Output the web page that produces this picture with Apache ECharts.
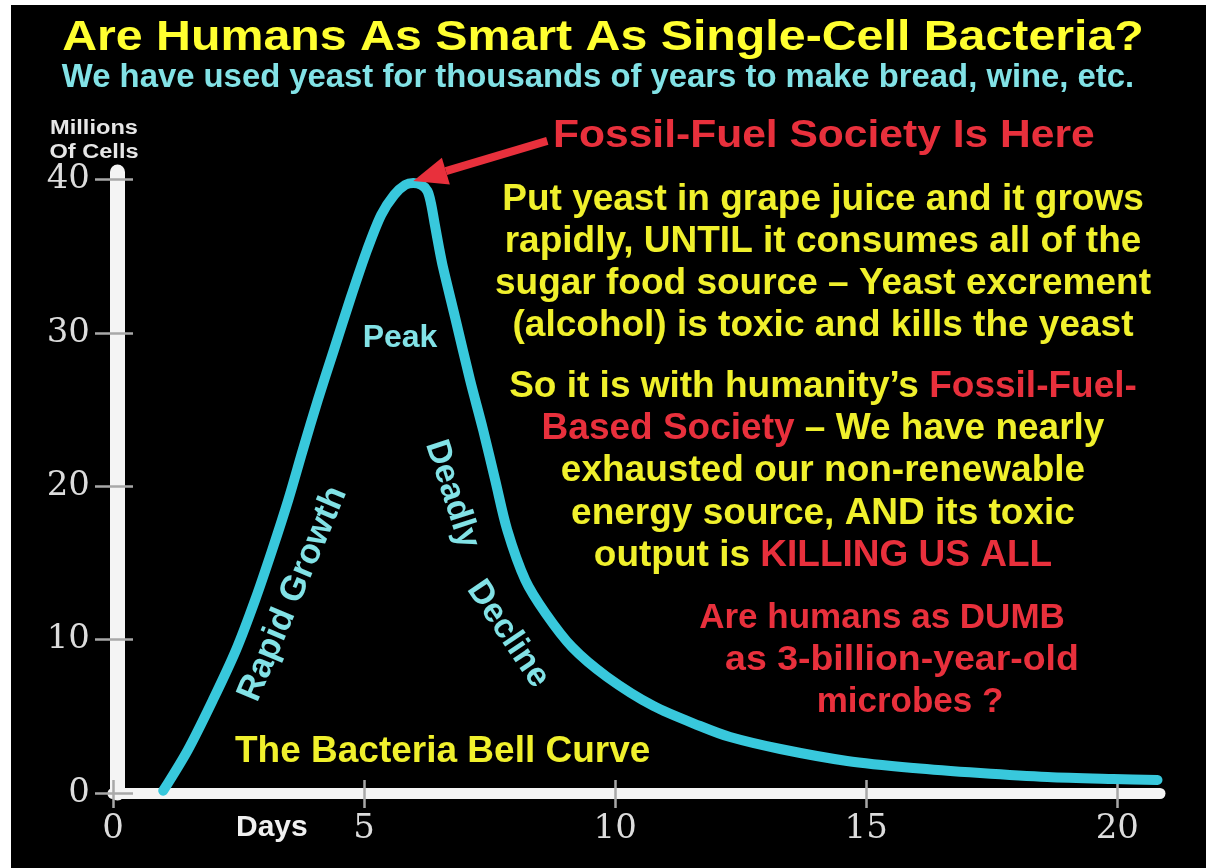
<!DOCTYPE html>
<html><head><meta charset="utf-8">
<script src="https://cdn.jsdelivr.net/npm/echarts@6/dist/echarts.min.js"></script>
<style>html,body{margin:0;padding:0;background:#fff}#c{width:1206px;height:868px}</style>
</head><body><div id="c"></div><script>
// ---- data ----
const days  = [1.00, 1.49, 1.99, 2.45, 2.83, 3.17, 3.49, 3.78, 4.08, 4.40, 4.72, 5.06, 5.34, 5.60, 5.82, 5.98, 6.14, 6.26, 6.33, 6.41, 6.49, 6.57, 6.81, 7.11, 7.37, 7.61, 7.85, 8.21, 8.61, 9.14, 9.84, 10.76, 11.69, 12.29, 13.29, 14.62, 15.94, 17.27, 18.61, 19.92, 20.80];
const cells = [0.15, 2.80, 6.07, 9.33, 12.59, 15.85, 19.11, 22.37, 25.64, 28.90, 32.16, 35.42, 37.70, 39.01, 39.66, 39.79, 39.66, 39.27, 38.49, 37.05, 35.62, 34.31, 31.05, 26.94, 23.68, 20.42, 17.16, 13.89, 11.74, 9.52, 7.57, 5.68, 4.37, 3.65, 2.87, 2.09, 1.63, 1.30, 1.04, 0.91, 0.85];
const xTicks = [0, 5, 10, 15, 20];
const yTicks = [0, 10, 20, 30, 40];
const peakDay = 5.98, peakCells = 39.79;

const titleText = 'Are Humans As Smart As Single-Cell Bacteria?';
const subtitleText = 'We have used yeast for thousands of years to make bread, wine, etc.';
const yAxisName = ['Millions', 'Of Cells'];
const xAxisName = 'Days';
const arrowLabel = 'Fossil-Fuel Society Is Here';
const para1 = ['Put yeast in grape juice and it grows', 'rapidly, UNTIL it consumes all of the', 'sugar food source \u2013 Yeast excrement', '(alcohol) is toxic and kills the yeast'];
const para2 = [
  [['y', 'So it is with humanity\u2019s '], ['r', 'Fossil-Fuel-']],
  [['r', 'Based Society'], ['y', ' \u2013 We have nearly']],
  [['y', 'exhausted our non-renewable']],
  [['y', 'energy source, AND its toxic']],
  [['y', 'output is '], ['r', 'KILLING US ALL']]
];
const para3 = ['Are humans as DUMB', 'as 3-billion-year-old', 'microbes ?'];
const curveLabels = { peak: 'Peak', growth: 'Rapid Growth', deadly: 'Deadly', decline: 'Decline', name: 'The Bacteria Bell Curve' };

// ---- styles ----
const YEL = '#f0f02c', TYEL = '#ffff30', RED = '#e8303c', CYAN = '#38c8dc', LCYAN = '#82e2e6';
const FONT = '"Liberation Sans", Arial, sans-serif';
const SERIF = '"DejaVu Serif", "Liberation Serif", serif';
const DEG = Math.PI / 180;
const TICKC = '#a8a8a8';

const chart = echarts.init(document.getElementById('c'), null, { renderer: 'canvas' });

function txt(x, y, text, size, color, o) {
  o = o || {};
  return {
    type: 'text', x: x, y: y, rotation: o.rot || 0, scaleX: o.sx || 1, scaleY: o.sy || 1, z: 10,
    style: { text: text, fill: color, fontSize: size, fontWeight: o.w || 'bold', fontFamily: FONT,
      textAlign: o.align || 'center', textVerticalAlign: 'middle' }
  };
}
function rich(x, y, parts, size) {
  const st = { fontSize: size, fontWeight: 'bold', fontFamily: FONT };
  return {
    type: 'text', x: x, y: y, z: 10,
    style: { text: parts.map(p => '{' + p[0] + '|' + p[1] + '}').join(''), textAlign: 'center', textVerticalAlign: 'middle',
      rich: { y: Object.assign({ fill: YEL }, st), r: Object.assign({ fill: RED }, st) } }
  };
}

const graphics = [
  { type: 'rect', shape: { x: 0, y: 0, width: 11, height: 868 }, style: { fill: '#fff' }, z: 20 },
  { type: 'rect', shape: { x: 0, y: 0, width: 1206, height: 5 }, style: { fill: '#fff' }, z: 20 },
  txt(603, 38, titleText, 42, TYEL, { sx: 1.15 }),
  txt(598, 78, subtitleText, 33, LCYAN, { sx: 0.995 }),
  txt(94, 128, yAxisName[0], 20, '#e6e6e6', { sx: 1.18 }),
  txt(94, 152, yAxisName[1], 20, '#e6e6e6', { sx: 1.18 }),
  txt(553, 137, arrowLabel, 38, RED, { align: 'left', sx: 1.12 }),
  txt(236, 828, xAxisName, 30, '#f0f0f0', { align: 'left' }),
  txt(400, 338, curveLabels.peak, 32, LCYAN, {}),
  txt(293, 594, curveLabels.growth, 35, LCYAN, { rot: 67 * DEG }),
  txt(452, 494, curveLabels.deadly, 34, LCYAN, { rot: -72 * DEG }),
  txt(508, 634, curveLabels.decline, 34, LCYAN, { rot: -56 * DEG }),
  txt(235, 752, curveLabels.name, 37, YEL, { align: 'left' })
];
const p1y = [200, 242, 284, 326];
para1.forEach((l, i) => graphics.push(txt(823, p1y[i], l, 37, YEL, {})));
const p2y = [387, 429, 471, 514, 556];
para2.forEach((l, i) => graphics.push(rich(823, p2y[i], l, 37)));
const p3 = [[882, 618, 1], [902, 660, 1.07], [910, 702, 1]];
para3.forEach((l, i) => graphics.push(txt(p3[i][0], p3[i][1], l, 35, RED, { sx: p3[i][2] })));

const xBase = { type: 'value', min: 0, max: 20.85, interval: 5, splitLine: { show: false } };
const yBase = { type: 'value', min: 0, max: 40.5, interval: 10, offset: -4, splitLine: { show: false } };

const option = {
  backgroundColor: '#000',
  animation: false,
  grid: { left: 113, right: 46, top: 172, bottom: 75 },
  xAxis: [
    Object.assign({}, xBase, {
      position: 'bottom',
      axisLine: { show: true, onZero: false, lineStyle: { color: '#f4f4f4', width: 11 } },
      axisTick: { show: true, length: 15, customValues: xTicks, lineStyle: { color: TICKC, width: 2.5 } },
      axisLabel: { customValues: xTicks, color: '#dcdcdc', fontSize: 34, fontFamily: SERIF, margin: 19 }
    }),
    Object.assign({}, xBase, {
      position: 'bottom',
      axisLine: { show: false, onZero: false },
      axisTick: { show: true, inside: true, length: 13, customValues: xTicks, lineStyle: { color: TICKC, width: 2.5 } },
      axisLabel: { show: false }
    })
  ],
  yAxis: [
    Object.assign({}, yBase, {
      position: 'left',
      axisLine: { show: true, onZero: false, lineStyle: { color: '#f4f4f4', width: 15 } },
      axisTick: { show: true, length: 22, customValues: yTicks, lineStyle: { color: TICKC, width: 2.5 } },
      axisLabel: { customValues: yTicks, color: '#dcdcdc', fontSize: 34, fontFamily: SERIF, margin: 27 }
    }),
    Object.assign({}, yBase, {
      position: 'left',
      axisLine: { show: false, onZero: false },
      axisTick: { show: true, inside: true, length: 16, customValues: yTicks, lineStyle: { color: TICKC, width: 2.5 } },
      axisLabel: { show: false }
    })
  ],
  series: [{
    type: 'line', xAxisIndex: 0, yAxisIndex: 0,
    data: days.map((d, i) => [d, cells[i]]), smooth: 0.3, showSymbol: false, symbol: 'none',
    silent: true, clip: false,
    lineStyle: { color: CYAN, width: 10, cap: 'round', join: 'round' }, z: 3
  }],
  graphic: graphics
};
chart.setOption(option);

// red arrow pointing at the peak
const tip = chart.convertToPixel({ gridIndex: 0 }, [peakDay, peakCells]);
const tx = tip[0], ty = tip[1] - 2;
const sx = tx + 134, sy = ty - 40;
const len = Math.hypot(sx - tx, sy - ty), ux = (sx - tx) / len, uy = (sy - ty) / len;
const hl = 34, hw = 14;
const bx = tx + ux * hl, by = ty + uy * hl;
graphics.push({ type: 'line', z: 12, shape: { x1: sx, y1: sy, x2: bx, y2: by }, style: { stroke: RED, lineWidth: 8 } });
graphics.push({ type: 'polygon', z: 12, shape: { points: [[tx, ty], [bx - uy * hw, by + ux * hw], [bx + uy * hw, by - ux * hw]] }, style: { fill: RED } });
chart.setOption({ graphic: graphics });
</script></body></html>
